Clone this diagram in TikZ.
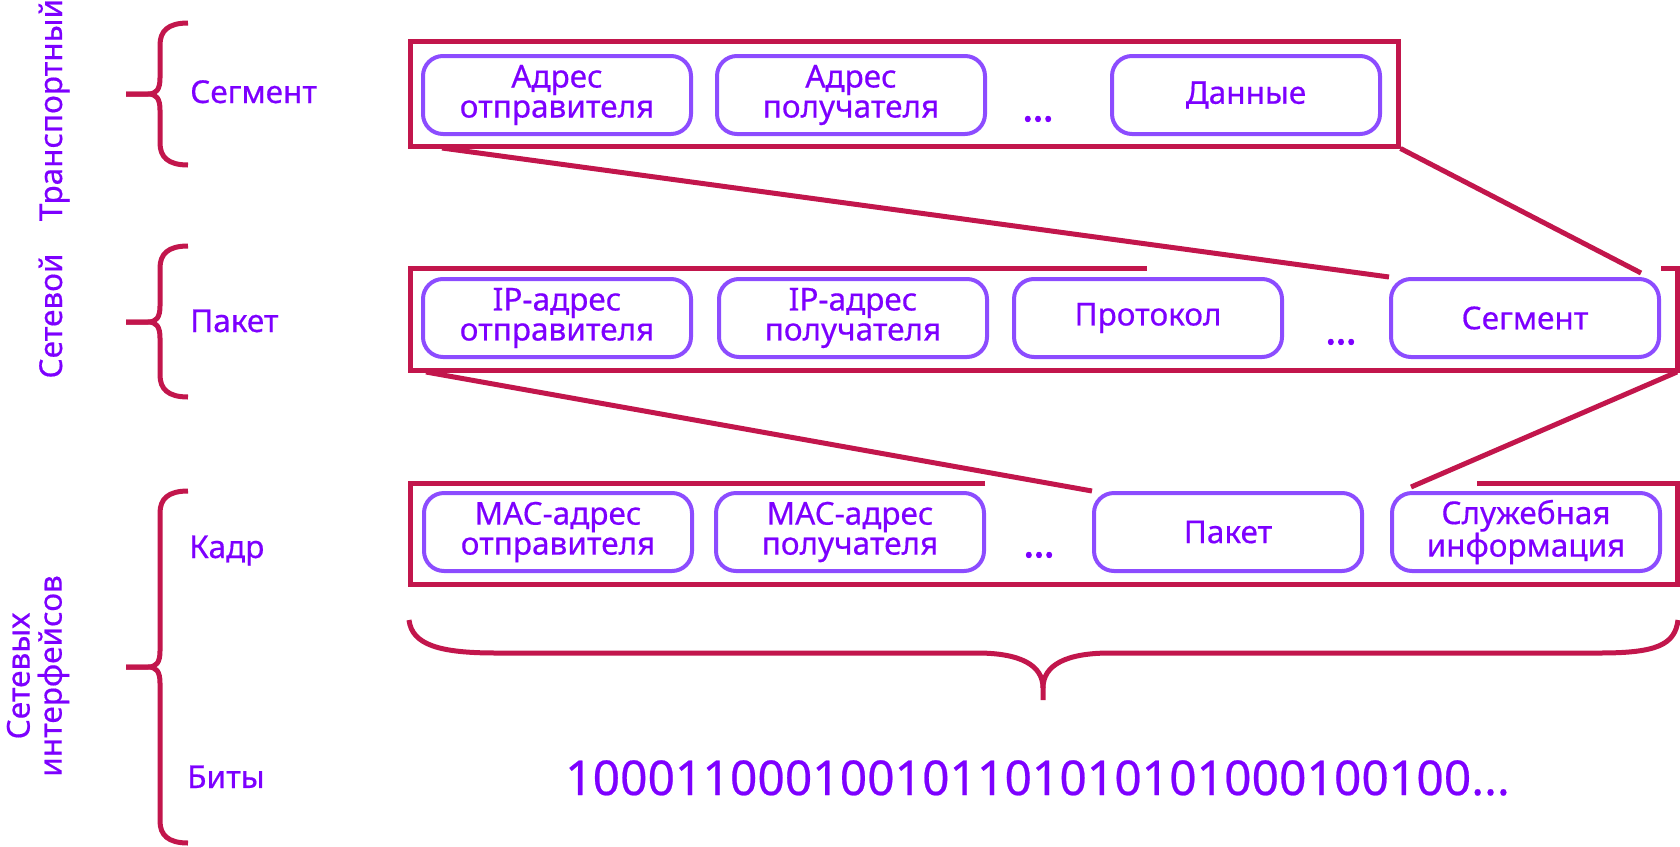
\documentclass[tikz,border=0pt]{standalone}
\usepackage{fontspec}
\setmainfont{Noto Sans}
\newfontfamily\medfont{Noto Sans}[FakeBold=0.5]
\newfontfamily\heavyfont{Noto Sans}[FakeBold=3]
\definecolor{crim}{HTML}{C2164C}
\definecolor{boxv}{HTML}{8C4CFF}
\definecolor{txtv}{HTML}{7D00FF}
\newcommand\mySideBrace[3]{%
  \draw[bracepath] (188,#1) .. controls (168,#1) and (160,{#1+8}) .. (160,{#1+22}) -- (160,{#2-16}) .. controls (160,{#2-4}) and (156,#2) .. (148,#2) -- (126,#2);
  \draw[bracepath] (126,#2) -- (148,#2) .. controls (156,#2) and (160,{#2+4}) .. (160,{#2+16}) -- (160,{#3-22}) .. controls (160,{#3-8}) and (168,#3) .. (188,#3);
}
\begin{document}
\begin{tikzpicture}[x=1pt,y=-1pt,
  redline/.style={draw=crim, line width=5pt, line join=miter},
  bracepath/.style={draw=crim, line width=5pt, line cap=butt, line join=round},
  field/.style={draw=boxv, line width=4pt, rounded corners=20pt, minimum width=268pt, minimum height=78pt, align=center, text=txtv, font=\medfont\fontsize{31.5}{30}\selectfont, inner sep=0pt},
  lbl/.style={text=txtv, font=\medfont\fontsize{31.5}{32}\selectfont, inner sep=0pt},
  dotsx/.style={text=txtv, font=\heavyfont\fontsize{38}{38}\selectfont, inner sep=0pt, anchor=base},
  redbox/.style={draw=crim, line width=5pt, inner sep=0pt}]
\useasboundingbox (0,0) rectangle (1680,846);

% left layer labels
\node[lbl, rotate=90, anchor=base] (tr) at (62,110) {Транспортный};
\node[lbl, rotate=90, anchor=base] (net) at (62,316) {Сетевой};
\node[lbl, rotate=90, align=center, anchor=center] (nif) at (38,676) {Сетевых\\интерфейсов};

% braces
\mySideBrace{23}{94}{165}
\mySideBrace{246}{322}{397}
\mySideBrace{491}{667}{843}

\node[lbl, anchor=base west] (lseg) at (190,103) {Сегмент};
\node[lbl, anchor=base west] (lpak) at (190,332) {Пакет};
\node[lbl, anchor=base west] (lkadr) at (189,558) {Кадр};
\node[lbl, anchor=base west] (lbit) at (187,788) {Биты};

% row 1: segment
\node[redbox, minimum width=988pt, minimum height=105pt] (seg) at (904,93.5) {};
\node[field] (a1) at (557,95) {Адрес\\отправителя};
\node[field] (a2) at (851,95) {Адрес\\получателя};
\node[dotsx] (a3) at (1038,121) {...};
\node[field] (a4) at (1246,95) {Данные};

% row 2: packet
\draw[redline] (1147,268) -- (410,268) -- (410,370) -- (1677,370) -- (1677,268) -- (1661,268);
\node[field] (b1) at (557,318) {IP-адрес\\отправителя};
\node[field] (b2) at (853,318) {IP-адрес\\получателя};
\node[field] (b3) at (1148,318) {Протокол};
\node[dotsx] (b5) at (1341,344) {...};
\node[field] (b4) at (1525,318) {Сегмент};

% row 3: frame
\draw[redline] (985,483) -- (410,483) -- (410,584) -- (1677,584) -- (1677,483) -- (1477,483);
\node[field] (c1) at (558,532) {MAC-адрес\\отправителя};
\node[field] (c2) at (850,532) {MAC-адрес\\получателя};
\node[dotsx] (c5) at (1039,557) {...};
\node[field] (c3) at (1228,532) {Пакет};
\node[field] (c4) at (1526,532) {Служебная\\информация};

% projection lines
\coordinate (pA) at (442,148);
\coordinate (pB) at (1641,273);
\coordinate (pC) at (426,372);
\coordinate (pD0) at (1677,372);
\coordinate (pD) at (1411,487);
\draw[redline] (pA) -- (b4.north west);
\draw[redline] (seg.south east) -- (pB);
\draw[redline] (pC) -- (c3.north west);
\draw[redline] (pD0) -- (pD);

% big brace
\draw[bracepath] (409,620) .. controls (412,645) and (440,653) .. (496,653) -- (977,653) .. controls (1020,653) and (1043,665) .. (1043,688) -- (1043,700);
\draw[bracepath] (1043,688) .. controls (1043,665) and (1066,653) .. (1110,653) -- (1600,653) .. controls (1656,653) and (1675,645) .. (1678,620);

\node[lbl, anchor=base west, font=\medfont\fontsize{48}{50}\selectfont] (bits) at (565,795) {100011000100101101010101000100100...};
\end{tikzpicture}
\end{document}
